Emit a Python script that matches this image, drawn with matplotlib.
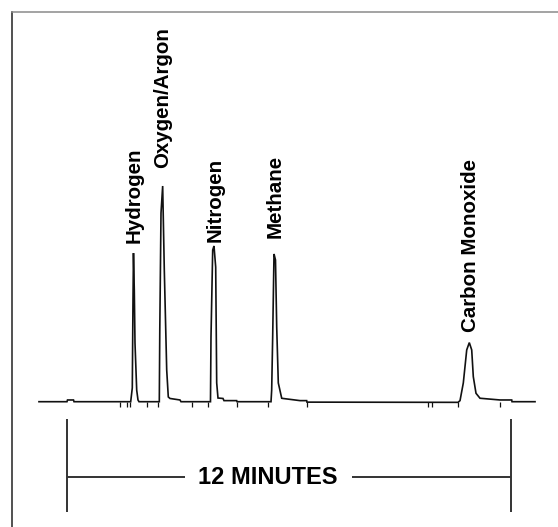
import numpy as np
import matplotlib
matplotlib.use('Agg')
import matplotlib.pyplot as plt

# Chromatogram trace (time in minutes, signal as % of largest peak)
time_min = [-0.757, 0.0, 0.014, 0.176, 0.19,
            1.722, 1.765, 1.784, 1.797, 1.819, 1.838, 1.884, 1.919, 1.946,
            2.495, 2.508, 2.541, 2.586, 2.630, 2.695, 2.738, 2.784, 3.054, 3.081,
            3.878, 3.892, 3.938, 3.973, 4.019, 4.046, 4.081, 4.216, 4.243, 4.586, 4.595,
            5.514, 5.532, 5.559, 5.595, 5.635, 5.668, 5.711, 5.803, 5.838, 6.297, 6.478, 6.486,
            10.568, 10.622, 10.711, 10.803, 10.873, 10.938, 10.981, 11.054, 11.162, 11.703,
            12.019, 12.027, 12.649]
signal = [0.0, 0.0, 0.8, 0.8, 0.0,
          0.0, 6.4, 47.1, 68.9, 51.8, 27.2, 5.4, 0.8, 0.0,
          0.0, 33.2, 87.5, 100.0, 61.1, 14.7, 2.2, 1.5, 0.8, 0.0,
          0.0, 30.0, 70.3, 72.2, 62.4, 8.7, 1.7, 1.5, 0.5, 0.5, 0.0,
          0.0, 5.4, 30.0, 68.5, 65.7, 34.6, 8.7, 1.6, 1.5, 0.5, 0.5, -0.2,
          -0.3, 0.5, 8.7, 24.0, 27.4, 24.0, 11.6, 3.9, 1.6, 0.8,
          0.8, 0.0, 0.0]

# integration marks under the baseline
marks_min = [1.432, 1.614, 1.703, 2.154, 2.468, 3.370, 3.819, 4.586,
             5.441, 6.478, 9.757, 9.857, 10.568, 11.703]

# peak names with label anchor (minutes, signal at bottom of rotated text)
peak_names = ['Hydrogen', 'Oxygen/Argon', 'Nitrogen', 'Methane', 'Carbon Monoxide']
label_t = [1.811, 2.595, 4.014, 5.635, 10.892]
label_s = [73.6, 108.2, 74.0, 75.9, 32.3]

run_start, run_end = 0.0, 12.0
scale_text = '12 MINUTES'

W, H = 558, 527
fig = plt.figure(figsize=(W / 100, H / 100), dpi=100)
ax = fig.add_axes([12 / W, 0, 1 - 12 / W, 1 - 12 / H])
ax.set_xlim(-1.486, 13.270)
ax.set_ylim(-58.09, 180.67)
ax.set_xticks([])
ax.set_yticks([])
for side in ['right', 'bottom']:
    ax.spines[side].set_visible(False)
ax.spines['top'].set_color('#8a8a8a')
ax.spines['left'].set_color('#222222')
ax.spines['top'].set_linewidth(1.1)
ax.spines['left'].set_linewidth(1.1)

ax.plot(time_min, signal, color='#111111', lw=1.2, solid_joinstyle='miter')
ax.vlines(marks_min, -2.3, 0, color='#111111', lw=0.9)

for name, t, s in zip(peak_names, label_t, label_s):
    ax.text(t, s, name, rotation=90, ha='center', va='bottom',
            fontsize=14.8, fontweight='bold', family='Liberation Sans')

# time scale bracket
ax.vlines([run_start, run_end], -51.1, -8.0, color='#333333', lw=1.4)
ax.hlines(-34.8, run_start, 3.19, color='#333333', lw=1.4)
ax.hlines(-34.8, 7.70, run_end, color='#333333', lw=1.4)
ax.text(5.42, -35.1, scale_text, ha='center', va='center',
        fontsize=17, fontweight='bold', family='Liberation Sans')

fig.savefig('out.png', dpi=100)
